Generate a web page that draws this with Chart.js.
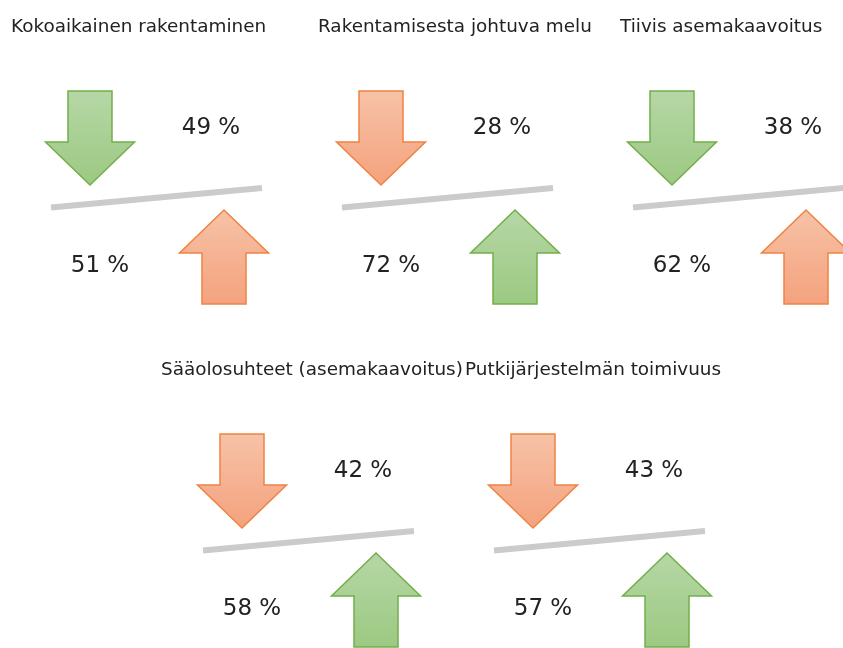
<!DOCTYPE html>
<html>
<head>
<meta charset="utf-8">
<script src="https://cdn.jsdelivr.net/npm/chart.js@4"></script>
<style>
  html,body{margin:0;padding:0;background:#ffffff;}
  #c{display:block;}
</style>
</head>
<body>
<canvas id="c" width="843" height="648"></canvas>
<script>
// ---- data ----
const titles = ['Kokoaikainen rakentaminen', 'Rakentamisesta johtuva melu', 'Tiivis asemakaavoitus',
                'Sääolosuhteet (asemakaavoitus)', 'Putkijärjestelmän toimivuus'];
const decreaseShare = [49, 28, 38, 42, 43];   // value beside the downward arrow
const increaseShare = [51, 72, 62, 58, 57];   // value beside the upward arrow
const decreaseTone = ['good', 'bad', 'good', 'bad', 'bad']; // green = good, orange = bad
const increaseTone = ['bad', 'good', 'bad', 'good', 'good'];

// ---- layout (pixel space of the scales) ----
const panelOrigin = [[0, 0], [291, 0], [582, 0], [152, 343], [443, 343]];
const titleOffsetX = [11, 27, 38, 9, 22];
const G = {
  title: [0, 27],
  downArrow: [90, 138],
  upArrow: [224, 257],
  lineStart: [51, 207.5],
  lineEnd: [262, 188],
  decLabel: [211, 128],
  incLabel: [100, 266]
};

const tones = {
  good: {top: '#b6d7a6', bottom: '#9cc982', border: '#72ae4a'},
  bad:  {top: '#f7c2a7', bottom: '#f4a27d', border: '#ef8341'}
};

function arrowImage(dir, toneKey) {
  const t = tones[toneKey];
  const W = 94, H = 98, m = 2;
  const cv = document.createElement('canvas');
  cv.width = W; cv.height = H;
  const ctx = cv.getContext('2d');
  const cx = W / 2, top = m, bot = H - m;
  const headH = 43, headHalf = 44.5, shaftHalf = 22;
  ctx.beginPath();
  if (dir === 'down') {
    ctx.moveTo(cx - shaftHalf, top);
    ctx.lineTo(cx + shaftHalf, top);
    ctx.lineTo(cx + shaftHalf, bot - headH);
    ctx.lineTo(cx + headHalf, bot - headH);
    ctx.lineTo(cx, bot);
    ctx.lineTo(cx - headHalf, bot - headH);
    ctx.lineTo(cx - shaftHalf, bot - headH);
  } else {
    ctx.moveTo(cx, top);
    ctx.lineTo(cx + headHalf, top + headH);
    ctx.lineTo(cx + shaftHalf, top + headH);
    ctx.lineTo(cx + shaftHalf, bot);
    ctx.lineTo(cx - shaftHalf, bot);
    ctx.lineTo(cx - shaftHalf, top + headH);
    ctx.lineTo(cx - headHalf, top + headH);
  }
  ctx.closePath();
  const g = ctx.createLinearGradient(0, top, 0, bot);
  g.addColorStop(0, t.top);
  g.addColorStop(1, t.bottom);
  ctx.fillStyle = g;
  ctx.fill();
  ctx.lineWidth = 1.5;
  ctx.lineJoin = 'miter';
  ctx.strokeStyle = t.border;
  ctx.stroke();
  return cv;
}

const at = (i, p) => ({x: panelOrigin[i][0] + p[0], y: panelOrigin[i][1] + p[1]});

const datasets = [];
titles.forEach((_, i) => {
  datasets.push({
    type: 'line',
    data: [at(i, G.lineStart), at(i, G.lineEnd)],
    borderColor: '#cbcbcb',
    borderWidth: 6,
    borderCapStyle: 'butt',
    pointRadius: 0,
    fill: false
  });
});
const arrowPts = [], arrowStyles = [];
titles.forEach((_, i) => {
  arrowPts.push(at(i, G.downArrow));
  arrowStyles.push(arrowImage('down', decreaseTone[i]));
  arrowPts.push(at(i, G.upArrow));
  arrowStyles.push(arrowImage('up', increaseTone[i]));
});
datasets.push({
  type: 'scatter',
  data: arrowPts,
  pointStyle: arrowStyles,
  pointRadius: 10,
  clip: false
});

const textPlugin = {
  id: 'panelTexts',
  afterDatasetsDraw(chart) {
    const {ctx, scales: {x, y}} = chart;
    ctx.save();
    ctx.fillStyle = '#222222';
    titles.forEach((t, i) => {
      ctx.font = '18.4px "DejaVu Sans"';
      ctx.textAlign = 'left';
      ctx.textBaseline = 'middle';
      const o = panelOrigin[i];
      ctx.fillText(t, x.getPixelForValue(o[0] + titleOffsetX[i]), y.getPixelForValue(o[1] + G.title[1]));
      ctx.font = '23px "DejaVu Sans"';
      ctx.textAlign = 'center';
      const d = at(i, G.decLabel), u = at(i, G.incLabel);
      ctx.fillText(decreaseShare[i] + ' %', x.getPixelForValue(d.x), y.getPixelForValue(d.y));
      ctx.fillText(increaseShare[i] + ' %', x.getPixelForValue(u.x), y.getPixelForValue(u.y));
    });
    ctx.restore();
  }
};

new Chart(document.getElementById('c'), {
  type: 'scatter',
  data: {datasets},
  options: {
    responsive: false,
    animation: false,
    devicePixelRatio: 1,
    layout: {padding: 0, autoPadding: false},
    scales: {
      x: {type: 'linear', min: 0, max: 843, display: false},
      y: {type: 'linear', min: 0, max: 648, reverse: true, display: false}
    },
    plugins: {legend: {display: false}, tooltip: {enabled: false}}
  },
  plugins: [textPlugin]
});
</script>
</body>
</html>
